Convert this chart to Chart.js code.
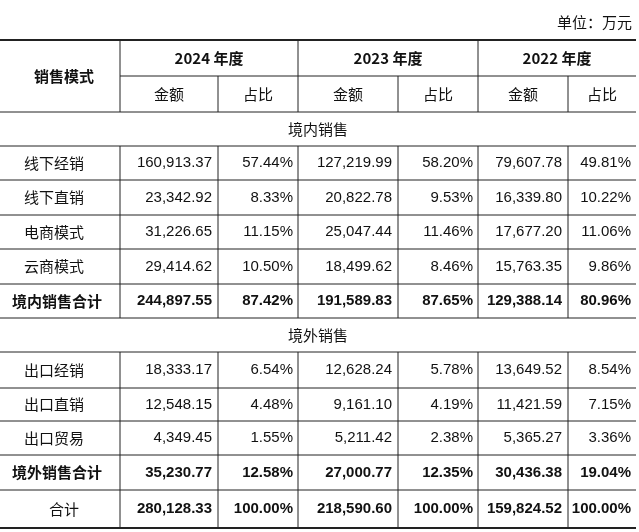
<!DOCTYPE html>
<html><head><meta charset="utf-8">
<script src="https://cdn.jsdelivr.net/npm/chart.js@4"></script>
<style>html,body{margin:0;padding:0;background:#fff}</style>
</head><body>
<canvas id="tbl" width="639" height="532"></canvas>
<script>
// 表格数据
var years = ['2024 年度', '2023 年度', '2022 年度'];
var sections = ['境内销售', '境外销售'];
var domesticRows = ['线下经销', '线下直销', '电商模式', '云商模式'];
var domesticAmt = [
  ['160,913.37', '127,219.99', '79,607.78'],
  ['23,342.92', '20,822.78', '16,339.80'],
  ['31,226.65', '25,047.44', '17,677.20'],
  ['29,414.62', '18,499.62', '15,763.35']
];
var domesticPct = [
  ['57.44%', '58.20%', '49.81%'],
  ['8.33%', '9.53%', '10.22%'],
  ['11.15%', '11.46%', '11.06%'],
  ['10.50%', '8.46%', '9.86%']
];
var domesticTotal = ['244,897.55', '191,589.83', '129,388.14'];
var domesticTotalPct = ['87.42%', '87.65%', '80.96%'];
var foreignRows = ['出口经销', '出口直销', '出口贸易'];
var foreignAmt = [
  ['18,333.17', '12,628.24', '13,649.52'],
  ['12,548.15', '9,161.10', '11,421.59'],
  ['4,349.45', '5,211.42', '5,365.27']
];
var foreignPct = [
  ['6.54%', '5.78%', '8.54%'],
  ['4.48%', '4.19%', '7.15%'],
  ['1.55%', '2.38%', '3.36%']
];
var foreignTotal = ['35,230.77', '27,000.77', '30,436.38'];
var foreignTotalPct = ['12.58%', '12.35%', '19.04%'];
var grandTotal = ['280,128.33', '218,590.60', '159,824.52'];
var grandTotalPct = ['100.00%', '100.00%', '100.00%'];

var colX = [0, 120, 218, 298, 398, 478, 568, 636];
var rowY = [40, 76, 112, 146, 180, 215, 249, 284, 318, 352, 388, 421, 455, 490, 528];

var tablePlugin = {
  id: 'tablePlugin',
  afterDraw: function (chart) {
    var c = chart.ctx, sx = chart.scales.x, sy = chart.scales.y;
    var X = function (v) { return sx.getPixelForValue(v); };
    var Y = function (v) { return sy.getPixelForValue(v); };
    var cn = '"Noto Sans CJK SC", sans-serif';
    var num = '"Liberation Sans", Arial, sans-serif';
    c.save();
    c.fillStyle = '#fff'; c.fillRect(0, 0, chart.width, chart.height);
    c.fillStyle = '#111'; c.textBaseline = 'middle';
    function txt(s, x, y, align, bold, font) {
      c.font = (bold ? 'bold ' : '') + '15px ' + (font || cn);
      c.textAlign = align; c.fillText(s, X(x), Y(y));
    }
    function hline(y, x0, x1, w) {
      c.lineWidth = w || 1; c.strokeStyle = '#222';
      c.beginPath(); c.moveTo(X(x0), Y(y)); c.lineTo(X(x1), Y(y)); c.stroke();
    }
    function vline(x, y0, y1) {
      c.lineWidth = 1; c.strokeStyle = '#222';
      c.beginPath(); c.moveTo(X(x), Y(y0)); c.lineTo(X(x), Y(y1)); c.stroke();
    }
    txt('单位：万元', 632, 22, 'right', false);
    // lines
    hline(rowY[0], 0, 636, 2);
    hline(rowY[1], colX[1], 636);
    for (var i = 2; i < rowY.length - 1; i++) hline(rowY[i], 0, 636);
    hline(rowY[rowY.length - 1], 0, 636, 2);
    for (var k = 1; k < colX.length - 1; k++) {
      var top = (k % 2 === 0) ? rowY[1] : rowY[0];
      vline(colX[k], top, rowY[2]);
      vline(colX[k], rowY[3], rowY[8]);
      vline(colX[k], rowY[9], rowY[14]);
    }
    function mid(a) { return (rowY[a] + rowY[a + 1]) / 2; }
    // header
    txt('销售模式', 64, (rowY[0] + rowY[2]) / 2, 'center', true);
    years.forEach(function (yr, j) {
      txt(yr, (colX[1 + 2 * j] + colX[3 + 2 * j]) / 2, mid(0), 'center', true);
      txt('金额', (colX[1 + 2 * j] + colX[2 + 2 * j]) / 2, mid(1), 'center', false);
      txt('占比', (colX[2 + 2 * j] + colX[3 + 2 * j]) / 2, mid(1), 'center', false);
    });
    function dataRow(r, label, amt, pct, bold) {
      txt(label, bold ? 12 : 24, mid(r), 'left', bold);
      for (var j = 0; j < 3; j++) {
        txt(amt[j], colX[2 + 2 * j] - 6, mid(r), 'right', bold, num);
        txt(pct[j], colX[3 + 2 * j] - 5, mid(r), 'right', bold, num);
      }
    }
    txt(sections[0], 318, mid(2), 'center', false);
    domesticRows.forEach(function (n, i) { dataRow(3 + i, n, domesticAmt[i], domesticPct[i], false); });
    dataRow(7, '境内销售合计', domesticTotal, domesticTotalPct, true);
    txt(sections[1], 318, mid(8), 'center', false);
    foreignRows.forEach(function (n, i) { dataRow(9 + i, n, foreignAmt[i], foreignPct[i], false); });
    dataRow(12, '境外销售合计', foreignTotal, foreignTotalPct, true);
    txt('合计', 64, mid(13), 'center', false);
    for (var j = 0; j < 3; j++) {
      txt(grandTotal[j], colX[2 + 2 * j] - 6, mid(13), 'right', true, num);
      txt(grandTotalPct[j], colX[3 + 2 * j] - 5, mid(13), 'right', true, num);
    }
    c.restore();
  }
};

new Chart(document.getElementById('tbl').getContext('2d'), {
  type: 'scatter',
  data: { datasets: [{ data: [] }] },
  options: {
    responsive: false, animation: false, devicePixelRatio: 1,
    layout: { padding: 0 },
    plugins: { legend: { display: false }, tooltip: { enabled: false } },
    scales: {
      x: { type: 'linear', min: 0, max: 639, display: false },
      y: { type: 'linear', min: 0, max: 532, reverse: true, display: false }
    }
  },
  plugins: [tablePlugin]
});
</script>
</body></html>
